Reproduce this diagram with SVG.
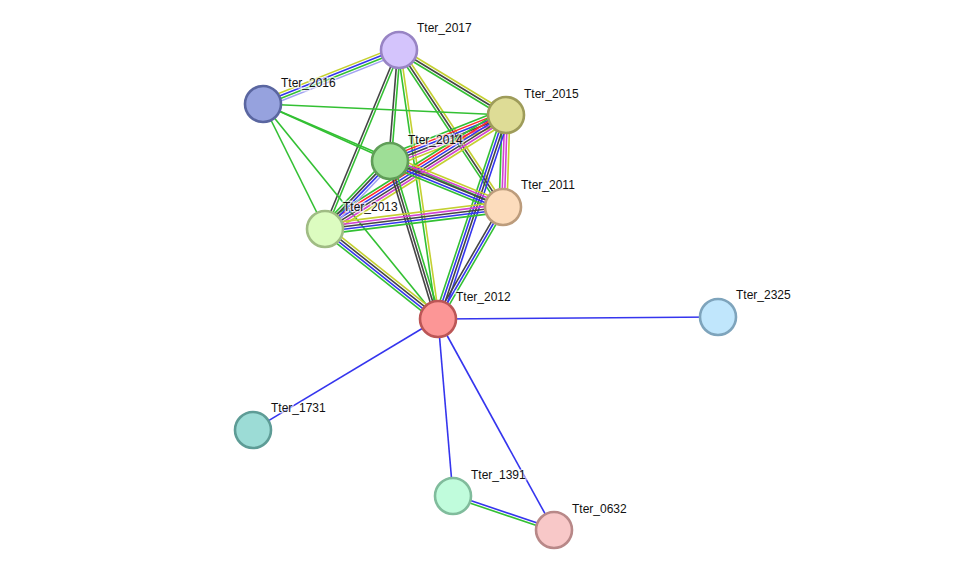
<svg xmlns="http://www.w3.org/2000/svg" width="976" height="576" viewBox="0 0 976 576">
<style>
.e path{fill:none;stroke-width:1.6}
.g{stroke:#33c033}.b{stroke:#3535ee}.k{stroke:#454545}.y{stroke:#c4d030}.r{stroke:#ff2a2a}.m{stroke:#d242d2}.l{stroke:#a2a2f2}
.n circle{stroke-width:2.6}
.n text{font-family:"Liberation Sans",Arial,sans-serif;font-size:12px;fill:#111;stroke:#fff;stroke-width:3;stroke-opacity:0.6;paint-order:stroke}
</style>
<rect width="976" height="576" fill="#fff"/>
<g id="edges" class="e">
<!-- 2017-2016 -->
<g transform="translate(399 50) rotate(158.35)"><path class="l" d="M0,-3.9H146.3"/><path class="g" d="M0,-1.3H146.3"/><path class="b" d="M0,1.3H146.3"/><path class="y" d="M0,3.9H146.3"/></g>
<!-- 2017-2015 -->
<g transform="translate(399 50) rotate(31.27)"><path class="g" d="M0,2.6H125.2"/><path class="k" d="M0,0H125.2"/><path class="y" d="M0,-2.6H125.2"/></g>
<!-- 2017-2014 -->
<g transform="translate(399 50) rotate(94.64)"><path class="g" d="M0,-1.3H111.4"/><path class="k" d="M0,1.3H111.4"/></g>
<!-- 2017-2013 -->
<g transform="translate(399 50) rotate(112.46)"><path class="g" d="M0,-1.3H193.7"/><path class="k" d="M0,1.3H193.7"/></g>
<!-- 2017-2012 -->
<g transform="translate(399 50) rotate(81.75)"><path class="g" d="M0,1.3H271.8"/><path class="y" d="M0,-1.3H271.8"/></g>
<!-- 2017-2011 -->
<g transform="translate(399 50) rotate(56.48)"><path class="g" d="M0,2.6H188.3"/><path class="k" d="M0,0H188.3"/><path class="y" d="M0,-2.6H188.3"/></g>
<!-- 2016 edges -->
<path class="g" d="M263,104L506,115"/>
<path class="g" d="M263,104L390,161"/>
<path class="g" d="M263,104L503,207"/>
<path class="g" d="M263,104L325,229"/>
<path class="g" d="M263,104L438,319"/>
<!-- 2015-2014 -->
<g transform="translate(506 115) rotate(158.37)"><path class="g" d="M0,6.5H124.8"/><path class="r" d="M0,3.9H124.8"/><path class="b" d="M0,1.3H124.8"/><path class="k" d="M0,-1.3H124.8"/><path class="m" d="M0,-3.9H124.8"/><path class="y" d="M0,-6.5H124.8"/></g>
<!-- 2015-2013 -->
<g transform="translate(506 115) rotate(147.80)"><path class="g" d="M0,6.5H213.9"/><path class="r" d="M0,3.9H213.9"/><path class="b" d="M0,1.3H213.9"/><path class="k" d="M0,-1.3H213.9"/><path class="m" d="M0,-3.9H213.9"/><path class="y" d="M0,-6.5H213.9"/></g>
<!-- 2015-2011 -->
<g transform="translate(506 115) rotate(91.87)"><path class="g" d="M0,3.9H92"/><path class="m" d="M0,1.3H92"/><path class="m" d="M0,-1.3H92"/><path class="y" d="M0,-3.9H92"/></g>
<!-- 2015-2012 -->
<g transform="translate(506 115) rotate(108.43)"><path class="g" d="M0,3.9H215"/><path class="b" d="M0,1.3H215"/><path class="k" d="M0,-1.3H215"/><path class="b" d="M0,-3.9H215"/></g>
<!-- 2014-2011 -->
<g transform="translate(390 161) rotate(22.15)"><path class="y" d="M0,-5.2H122"/><path class="m" d="M0,-2.6H122"/><path class="k" d="M0,0H122"/><path class="b" d="M0,2.6H122"/><path class="g" d="M0,5.2H122"/></g>
<!-- 2014-2013 -->
<g transform="translate(390 161) rotate(133.71)"><path class="l" d="M0,-3.9H94.1"/><path class="b" d="M0,-1.3H94.1"/><path class="k" d="M0,1.3H94.1"/><path class="g" d="M0,3.9H94.1"/></g>
<!-- 2014-2012 -->
<g transform="translate(390 161) rotate(73.10)"><path class="g" d="M0,-2.6H165.1"/><path class="k" d="M0,0H165.1"/><path class="k" d="M0,2.6H165.1"/></g>
<!-- 2013-2011 -->
<g transform="translate(325 229) rotate(-7.05)"><path class="y" d="M0,-5.2H179.4"/><path class="m" d="M0,-2.6H179.4"/><path class="k" d="M0,0H179.4"/><path class="b" d="M0,2.6H179.4"/><path class="g" d="M0,5.2H179.4"/></g>
<!-- 2012-2011 -->
<g transform="translate(438 319) rotate(-59.87)"><path class="g" d="M0,2.6H129.5"/><path class="b" d="M0,0H129.5"/><path class="k" d="M0,-2.6H129.5"/></g>
<!-- 2013-2012 -->
<g transform="translate(325 229) rotate(38.53)"><path class="y" d="M0,-3.9H144.5"/><path class="k" d="M0,-1.3H144.5"/><path class="b" d="M0,1.3H144.5"/><path class="g" d="M0,3.9H144.5"/></g>
<!-- 2012 outer -->
<path class="b" d="M438,319L718,317"/>
<path class="b" d="M438,319L253,430"/>
<path class="b" d="M438,319L453,496"/>
<path class="b" d="M438,319L554,530"/>
<!-- 1391-0632 -->
<g transform="translate(453 496) rotate(18.61)"><path class="b" d="M0,-1.3H106.6"/><path class="g" d="M0,1.3H106.6"/></g>
</g>
<g id="n2017" class="n"><circle cx="399" cy="50" r="18" fill="#d4c4fc" stroke="#9884c4"/><text x="417" y="32">Tter_2017</text></g>
<g id="n2016" class="n"><circle cx="263" cy="104" r="18" fill="#96a2de" stroke="#5a66a0"/><text x="281" y="87">Tter_2016</text></g>
<g id="n2015" class="n"><circle cx="506" cy="115" r="18" fill="#dedc96" stroke="#9e9c5a"/><text x="524" y="98">Tter_2015</text></g>
<g id="n2014" class="n"><circle cx="390" cy="161" r="18" fill="#9ede96" stroke="#609e58"/><text x="408" y="144">Tter_2014</text></g>
<g id="n2011" class="n"><circle cx="503" cy="207" r="18" fill="#fcdcbc" stroke="#bc9c7c"/><text x="521" y="189">Tter_2011</text></g>
<g id="n2013" class="n"><circle cx="325" cy="229" r="18" fill="#dcfcc0" stroke="#a0bc84"/><text x="343" y="211">Tter_2013</text></g>
<g id="n2012" class="n"><circle cx="438" cy="319" r="18" fill="#fc9696" stroke="#bc5656"/><text x="456" y="301">Tter_2012</text></g>
<g id="n2325" class="n"><circle cx="718" cy="317" r="18" fill="#c0e6fc" stroke="#7ea4bc"/><text x="736" y="299">Tter_2325</text></g>
<g id="n1731" class="n"><circle cx="253" cy="430" r="18" fill="#9cdcd6" stroke="#5e9c96"/><text x="271" y="412">Tter_1731</text></g>
<g id="n1391" class="n"><circle cx="453" cy="496" r="18" fill="#c0fcdc" stroke="#80bc9c"/><text x="471" y="479">Tter_1391</text></g>
<g id="n0632" class="n"><circle cx="554" cy="530" r="18" fill="#f8c8c8" stroke="#b88888"/><text x="572" y="513">Tter_0632</text></g>
</svg>
